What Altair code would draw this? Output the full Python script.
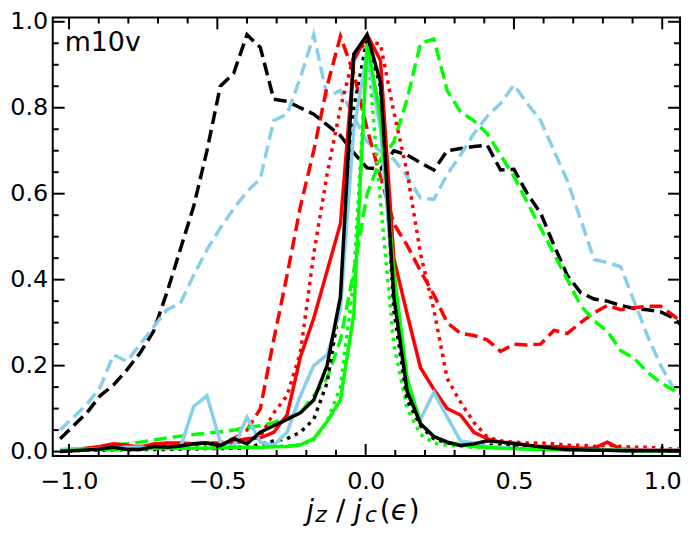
import altair as alt
import numpy as np
import pandas as pd

# bin centres of j_z / j_c histogram
bins = np.round(0.005 + 0.045 * np.arange(-23, 25), 3)

black_dashed = [0.03, 0.06, 0.09, 0.13, 0.155, 0.19, 0.23, 0.28, 0.37, 0.47,
                0.57, 0.70, 0.85, 0.88, 0.97, 0.94, 0.82, 0.815, 0.80, 0.785,
                0.76, 0.735, 0.695, 0.66, 0.657, 0.70, 0.69, 0.672, 0.655, 0.70,
                0.705, 0.71, 0.713, 0.655, 0.657, 0.60, 0.555, 0.48, 0.41, 0.37,
                0.355, 0.35, 0.34, 0.333, 0.33, 0.325, 0.31, 0.28]
sky_dashed = [0.05, 0.08, 0.11, 0.15, 0.225, 0.21, 0.25, 0.29, 0.33, 0.345,
              0.41, 0.47, 0.52, 0.565, 0.605, 0.635, 0.77, 0.785, 0.87, 0.97,
              0.826, 0.84, 0.78, 0.72, 0.70, 0.68, 0.64, 0.59, 0.587, 0.645,
              0.69, 0.74, 0.78, 0.81, 0.853, 0.81, 0.77, 0.70, 0.63, 0.54,
              0.447, 0.44, 0.43, 0.35, 0.27, 0.20, 0.145, 0.11]
red_dashed = [0.0, 0.003, 0.005, 0.008, 0.01, 0.01, 0.012, 0.012, 0.015, 0.015,
              0.018, 0.02, 0.02, 0.03, 0.05, 0.10, 0.26, 0.41, 0.57, 0.70,
              0.85, 0.966, 0.88, 0.75, 0.64, 0.53, 0.48, 0.42, 0.365, 0.30,
              0.275, 0.27, 0.26, 0.233, 0.25, 0.248, 0.25, 0.282, 0.275, 0.30,
              0.323, 0.34, 0.33, 0.335, 0.338, 0.338, 0.315, 0.29]
green_dashed = [0.002, 0.005, 0.008, 0.012, 0.015, 0.018, 0.022, 0.027, 0.032, 0.036,
                0.04, 0.043, 0.046, 0.05, 0.056, 0.06, 0.068, 0.078, 0.09, 0.13,
                0.17, 0.26, 0.42, 0.60, 0.68, 0.72, 0.82, 0.95, 0.96, 0.84,
                0.79, 0.77, 0.74, 0.69, 0.64, 0.58, 0.52, 0.46, 0.40, 0.34,
                0.305, 0.28, 0.235, 0.217, 0.185, 0.16, 0.142, 0.12]
red_dotted = [0.003, 0.005, 0.006, 0.008, 0.01, 0.01, 0.012, 0.012, 0.014, 0.015,
              0.015, 0.018, 0.018, 0.02, 0.025, 0.035, 0.09, 0.13, 0.23, 0.46,
              0.645, 0.80, 0.92, 0.955, 0.948, 0.79, 0.65, 0.46, 0.33, 0.17,
              0.115, 0.068, 0.034, 0.025, 0.022, 0.02, 0.02, 0.018, 0.015, 0.015,
              0.012, 0.015, 0.012, 0.01, 0.01, 0.008, 0.006, 0.005]
green_dotted = [0.003, 0.004, 0.005, 0.006, 0.006, 0.007, 0.007, 0.008, 0.008, 0.009,
                0.009, 0.01, 0.01, 0.011, 0.011, 0.012, 0.012, 0.013, 0.016, 0.027,
                0.07, 0.15, 0.40, 0.95, 0.58, 0.25, 0.10, 0.04, 0.02, 0.015,
                0.012, 0.01, 0.009, 0.008, 0.007, 0.006, 0.005, 0.005, 0.004, 0.004,
                0.004, 0.003, 0.003, 0.003, 0.002, 0.002, 0.002, 0.002]
black_dotted = [0.002, 0.002, 0.003, 0.003, 0.004, 0.004, 0.005, 0.005, 0.005, 0.006,
                0.006, 0.007, 0.007, 0.008, 0.008, 0.018, 0.025, 0.03, 0.045, 0.075,
                0.16, 0.35, 0.80, 0.96, 0.85, 0.33, 0.12, 0.06, 0.03, 0.02,
                0.015, 0.015, 0.015, 0.015, 0.012, 0.01, 0.008, 0.006, 0.004, 0.004,
                0.003, 0.003, 0.003, 0.002, 0.002, 0.002, 0.002, 0.002]
red_solid = [0.002, 0.004, 0.008, 0.012, 0.018, 0.015, 0.01, 0.018, 0.02, 0.02,
             0.018, 0.02, 0.012, 0.025, 0.03, 0.032, 0.045, 0.085, 0.22, 0.31,
             0.42, 0.53, 0.91, 0.97, 0.91, 0.45, 0.32, 0.195, 0.145, 0.10,
             0.085, 0.045, 0.03, 0.022, 0.02, 0.015, 0.012, 0.012, 0.01, 0.008,
             0.008, 0.022, 0.006, 0.005, 0.004, 0.004, 0.003, 0.003]
sky_solid = [0.005, 0.007, 0.005, 0.007, 0.008, 0.01, 0.01, 0.008, 0.01, 0.008,
             0.105, 0.13, 0.022, 0.011, 0.08, 0.022, 0.015, 0.045, 0.13, 0.20,
             0.225, 0.33, 0.75, 0.93, 0.75, 0.38, 0.15, 0.075, 0.138, 0.08,
             0.025, 0.02, 0.012, 0.01, 0.008, 0.006, 0.005, 0.005, 0.004, 0.004,
             0.004, 0.003, 0.003, 0.003, 0.003, 0.003, 0.003, 0.003]
green_solid = [0.002, 0.003, 0.004, 0.005, 0.005, 0.006, 0.006, 0.007, 0.007, 0.008,
               0.008, 0.008, 0.009, 0.01, 0.01, 0.01, 0.011, 0.012, 0.016, 0.03,
               0.07, 0.12, 0.32, 0.95, 0.78, 0.42, 0.17, 0.065, 0.035, 0.022,
               0.016, 0.012, 0.01, 0.008, 0.007, 0.006, 0.005, 0.005, 0.004, 0.004,
               0.003, 0.003, 0.003, 0.002, 0.002, 0.002, 0.002, 0.002]
black_solid = [0.0, 0.002, 0.004, 0.006, 0.01, 0.005, 0.005, 0.012, 0.01, 0.013,
               0.018, 0.02, 0.014, 0.03, 0.018, 0.045, 0.06, 0.075, 0.09, 0.12,
               0.20, 0.36, 0.925, 0.97, 0.86, 0.36, 0.14, 0.065, 0.035, 0.022,
               0.014, 0.018, 0.025, 0.022, 0.018, 0.015, 0.011, 0.008, 0.005, 0.004,
               0.003, 0.003, 0.002, 0.002, 0.002, 0.002, 0.002, 0.002]

x_major = [-1.0, -0.5, 0.0, 0.5, 1.0]
x_minor = [-0.9, -0.8, -0.7, -0.6, -0.4, -0.3, -0.2, -0.1,
           0.1, 0.2, 0.3, 0.4, 0.6, 0.7, 0.8, 0.9]
y_major = [0.0, 0.2, 0.4, 0.6, 0.8, 1.0]
y_minor = [0.05, 0.1, 0.15, 0.25, 0.3, 0.35, 0.45, 0.5, 0.55,
           0.65, 0.7, 0.75, 0.85, 0.9, 0.95]

DASH = [13, 6]
DOT = [3.5, 5]
SKY, RED, GREEN = "#87CEEB", "#FF0000", "#00FF00"
series = [
    (black_dashed, "black", DASH),
    (sky_dashed, SKY, DASH),
    (red_dashed, RED, DASH),
    (green_dashed, GREEN, DASH),
    (red_dotted, RED, DOT),
    (green_dotted, GREEN, DOT),
    (black_dotted, "black", DOT),
    (red_solid, RED, None),
    (sky_solid, SKY, None),
    (green_solid, GREEN, None),
    (black_solid, "black", None),
]

W, H = 631, 441
FONT = "DejaVu Sans"
LABEL_SIZE = 24
xscale = alt.Scale(domain=[-1.055, 1.06], nice=False, zero=False)
yscale = alt.Scale(domain=[-0.01, 1.01], nice=False, zero=False)
xaxis = alt.Axis(values=x_major, format=".1f", title=None, ticks=False, domain=False,
                 grid=False, labelFont=FONT, labelFontSize=LABEL_SIZE, labelColor="black",
                 labelBaseline="alphabetic", labelPadding=33, labelFlush=False,
                 labelOverlap=False)
yaxis = alt.Axis(values=y_major, format=".1f", title=None, ticks=False, domain=False,
                 grid=False, labelFont=FONT, labelFontSize=LABEL_SIZE, labelColor="black",
                 labelPadding=5, labelFlush=False, labelOverlap=False)

layers = []
for vals, color, dash in series:
    df = pd.DataFrame({"x": bins, "y": vals})
    mk = dict(color=color, strokeWidth=3.5, clip=True, strokeCap="butt")
    if dash:
        mk["strokeDash"] = dash
    layers.append(
        alt.Chart(df).mark_line(**mk).encode(
            x=alt.X("x:Q", scale=xscale, axis=xaxis),
            y=alt.Y("y:Q", scale=yscale, axis=yaxis),
        )
    )

# inward ticks on all four sides
def xticks(vals, y0, y1):
    return alt.Chart(pd.DataFrame({"x": vals})).mark_rule(color="black", strokeWidth=2).encode(
        x=alt.X("x:Q", scale=xscale, axis=xaxis), y=alt.value(y0), y2=alt.value(y1))

def yticks(vals, x0, x1):
    return alt.Chart(pd.DataFrame({"y": vals})).mark_rule(color="black", strokeWidth=2).encode(
        y=alt.Y("y:Q", scale=yscale, axis=yaxis), x=alt.value(x0), x2=alt.value(x1))

MAJ, MIN = 12, 6
layers += [
    xticks(x_major, H, H - MAJ), xticks(x_minor, H, H - MIN),
    xticks(x_major, 0, MAJ), xticks(x_minor, 0, MIN),
    yticks(y_major, 0, MAJ), yticks(y_minor, 0, MIN),
    yticks(y_major, W, W - MAJ), yticks(y_minor, W, W - MIN),
]

one = pd.DataFrame({"a": [0]})

def txt(s, x, y, size=28, style="normal"):
    return alt.Chart(one).mark_text(text=s, font=FONT, fontSize=size, fontStyle=style,
                                    align="left", baseline="alphabetic", color="black").encode(
        x=alt.value(x), y=alt.value(y))

layers += [
    txt("m10v", 12, 34, 27),
    txt("j", 255, 505, 28, "italic"),
    txt("z", 264, 507, 22, "italic"),
    txt("/", 285, 505, 28),
    txt("j", 303, 505, 28, "italic"),
    txt("c", 314, 507, 22, "italic"),
    txt("(", 329, 505, 28),
    txt("\u03f5", 340, 505, 28, "italic"),
    txt(")", 358, 505, 28),
]

chart = alt.layer(*layers).properties(
    width=W, height=H,
    autosize=alt.AutoSizeParams(type="none"),
    padding={"left": 45, "top": 8, "right": 4, "bottom": 71},
).configure_view(stroke="black", strokeWidth=2)

chart.save("out.html", embed_options={"renderer": "svg", "actions": False})
